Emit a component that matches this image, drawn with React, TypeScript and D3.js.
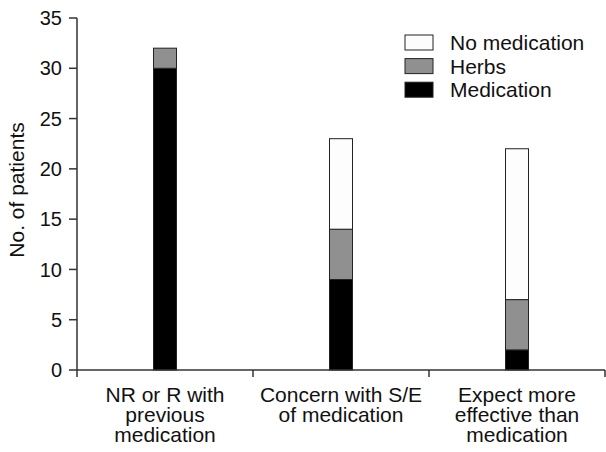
import React from "react";
import * as d3 from "d3";

const categories = ["NR or R with previous medication", "Concern with S/E of medication", "Expect more effective than medication"];
const categoryLines = [
  ["NR or R with", "previous", "medication"],
  ["Concern with S/E", "of medication"],
  ["Expect more", "effective than", "medication"],
];
const medication = [30, 9, 2];
const herbs = [2, 5, 5];
const noMedication = [0, 9, 15];
const seriesKeys = ["Medication", "Herbs", "No medication"];
const seriesColors = ["#000000", "#909090", "#fdfdfd"];
const legendOrder = ["No medication", "Herbs", "Medication"];
const yTicks = [0, 5, 10, 15, 20, 25, 30, 35];

const W = 606;
const H = 452;
const FONT = "Liberation Sans, Arial, sans-serif";

export default function App() {
  const rows = categories.map((c, i) => ({
    category: c,
    Medication: medication[i],
    Herbs: herbs[i],
    "No medication": noMedication[i],
  }));
  const stacked = d3.stack<any>().keys(seriesKeys)(rows);
  const x = d3.scaleBand<string>().domain(categories).range([77, 605]).paddingInner(0).paddingOuter(0);
  const y = d3.scaleLinear().domain([0, 35]).range([370, 18]);
  const color = d3.scaleOrdinal<string, string>().domain(seriesKeys).range(seriesColors);
  const barW = 23;
  const axisColor = "#333";

  return (
    <svg width={W} height={H} style={{ position: "absolute", left: 0, top: 0, background: "#fff" }} fontFamily={FONT}>
      <rect x={0} y={0} width={W} height={H} fill="#fff" />
      {/* bars */}
      {stacked.map((s) => (
        <g key={s.key}>
          {s.map((d, i) => {
            const h = y(d[0]) - y(d[1]);
            if (h <= 0) return null;
            const cx = (x(categories[i]) as number) + x.bandwidth() / 2;
            return (
              <rect
                key={i}
                x={cx - barW / 2}
                y={y(d[1])}
                width={barW}
                height={h}
                fill={color(s.key)}
                stroke="#222"
                strokeWidth={1}
              />
            );
          })}
        </g>
      ))}
      {/* y axis */}
      <line x1={77} x2={77} y1={y(35)} y2={y(0)} stroke={axisColor} strokeWidth={1.5} />
      {yTicks.map((t) => (
        <g key={t}>
          <line x1={69} x2={77} y1={y(t)} y2={y(t)} stroke={axisColor} strokeWidth={1.5} />
          <text x={62} y={y(t)} dy="0.36em" textAnchor="end" fontSize={20} fill="#111">
            {t}
          </text>
        </g>
      ))}
      {/* x axis */}
      <line x1={77} x2={605} y1={y(0)} y2={y(0)} stroke={axisColor} strokeWidth={1.5} />
      {[...categories.map((c) => x(c) as number), 605].map((px, i) => (
        <line key={i} x1={px} x2={px} y1={y(0)} y2={y(0) + 7} stroke={axisColor} strokeWidth={1.5} />
      ))}
      {categories.map((c, i) => {
        const cx = (x(c) as number) + x.bandwidth() / 2;
        return (
          <text key={c} x={cx} y={402} textAnchor="middle" fontSize={21} fill="#111">
            {categoryLines[i].map((ln, j) => (
              <tspan key={j} x={cx} dy={j === 0 ? 0 : 20}>
                {ln}
              </tspan>
            ))}
          </text>
        );
      })}
      {/* y title */}
      <text transform={`translate(24, 190) rotate(-90)`} textAnchor="middle" fontSize={21} fill="#111">
        No. of patients
      </text>
      {/* legend */}
      {legendOrder.map((k, i) => {
        const cy = 42.5 + i * 23.6;
        return (
          <g key={k}>
            <rect x={405} y={cy - 7.5} width={28} height={15} fill={color(k)} stroke="#222" strokeWidth={1} />
            <text x={450} y={cy} dy="0.36em" fontSize={21} fill="#111">
              {k}
            </text>
          </g>
        );
      })}
    </svg>
  );
}
